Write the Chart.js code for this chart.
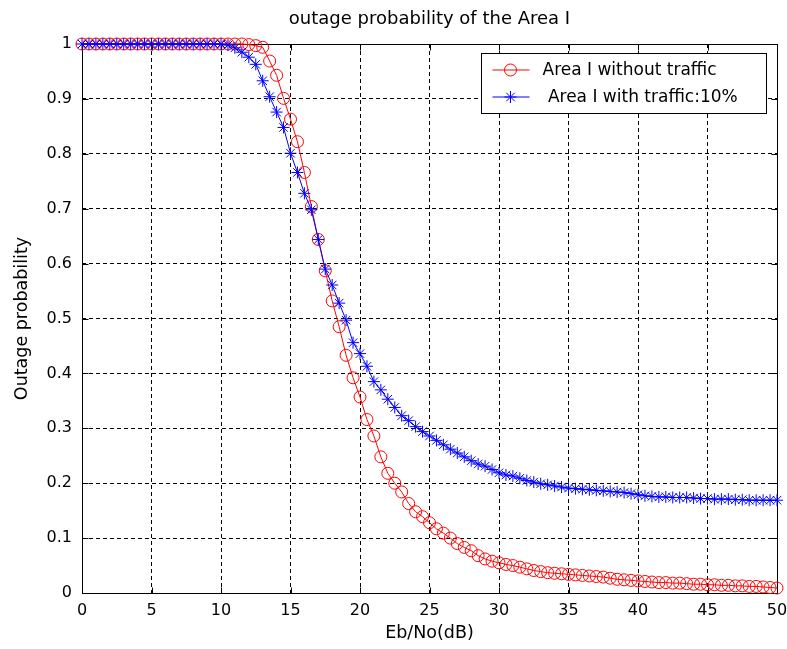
<!DOCTYPE html>
<html>
<head>
<meta charset="utf-8">
<title>outage probability of the Area I</title>
<script src="https://cdn.jsdelivr.net/npm/chart.js@4/dist/chart.umd.min.js"></script>
<style>
  html, body { margin: 0; padding: 0; background: #fff; }
  #wrap { width: 787px; height: 649px; }
</style>
</head>
<body>
<div id="wrap"><canvas id="chart-outage" width="787" height="649"></canvas></div>
<script>
// Eb/No grid in dB (0.5 dB steps)
const ebNo = [
  0, 0.5, 1, 1.5, 2, 2.5, 3, 3.5, 4, 4.5,
  5, 5.5, 6, 6.5, 7, 7.5, 8, 8.5, 9, 9.5,
  10, 10.5, 11, 11.5, 12, 12.5, 13, 13.5, 14, 14.5,
  15, 15.5, 16, 16.5, 17, 17.5, 18, 18.5, 19, 19.5,
  20, 20.5, 21, 21.5, 22, 22.5, 23, 23.5, 24, 24.5,
  25, 25.5, 26, 26.5, 27, 27.5, 28, 28.5, 29, 29.5,
  30, 30.5, 31, 31.5, 32, 32.5, 33, 33.5, 34, 34.5,
  35, 35.5, 36, 36.5, 37, 37.5, 38, 38.5, 39, 39.5,
  40, 40.5, 41, 41.5, 42, 42.5, 43, 43.5, 44, 44.5,
  45, 45.5, 46, 46.5, 47, 47.5, 48, 48.5, 49, 49.5,
  50
];

// outage probability, Area I without traffic
const noTraffic = [
  1, 1, 1, 1, 1, 1, 1, 1, 1, 1,
  1, 1, 1, 1, 1, 1, 1, 1, 1, 1,
  1, 1, 1, 1, 0.999, 0.997, 0.994, 0.969, 0.943, 0.901,
  0.863, 0.822, 0.766, 0.704, 0.644, 0.587, 0.532, 0.485, 0.433, 0.392,
  0.357, 0.316, 0.286, 0.248, 0.218, 0.200, 0.184, 0.163, 0.148, 0.139,
  0.128, 0.117, 0.109, 0.100, 0.090, 0.083, 0.077, 0.068, 0.062, 0.058,
  0.055, 0.052, 0.050, 0.047, 0.044, 0.041, 0.039, 0.037, 0.036, 0.035,
  0.034, 0.033, 0.032, 0.031, 0.030, 0.029, 0.027, 0.025, 0.024, 0.023,
  0.022, 0.021, 0.020, 0.019, 0.019, 0.018, 0.018, 0.017, 0.016, 0.016,
  0.015, 0.015, 0.014, 0.014, 0.013, 0.013, 0.012, 0.012, 0.011, 0.010,
  0.009
];

// outage probability, Area I with 10% traffic
const traffic10 = [
  1, 1, 1, 1, 1, 1, 1, 1, 1, 1,
  1, 1, 1, 1, 1, 1, 1, 1, 1, 1,
  1, 0.998, 0.993, 0.985, 0.976, 0.963, 0.933, 0.904, 0.876, 0.848,
  0.801, 0.766, 0.728, 0.698, 0.644, 0.590, 0.561, 0.528, 0.497, 0.456,
  0.436, 0.413, 0.385, 0.370, 0.353, 0.338, 0.323, 0.314, 0.303, 0.294,
  0.286, 0.278, 0.270, 0.262, 0.255, 0.248, 0.241, 0.235, 0.231, 0.225,
  0.219, 0.215, 0.213, 0.209, 0.205, 0.202, 0.199, 0.197, 0.195, 0.193,
  0.191, 0.190, 0.189, 0.188, 0.187, 0.186, 0.185, 0.184, 0.183, 0.181,
  0.179, 0.177, 0.176, 0.175, 0.175, 0.174, 0.174, 0.174, 0.173, 0.172,
  0.172, 0.171, 0.171, 0.171, 0.170, 0.170, 0.169, 0.169, 0.169, 0.169,
  0.169
];

const seriesLabels = ["Area I without traffic", " Area I with traffic:10%"];

const FONT = "'DejaVu Sans', sans-serif";

function toPoints(ys) {
  return ebNo.map((x, i) => ({ x: x, y: ys[i] }));
}

function drawMarker(ctx, style, x, y, r) {
  ctx.beginPath();
  if (style === "circle") {
    ctx.arc(x, y, r, 0, Math.PI * 2);
  } else {
    // matlab-ish asterisk: + and x together
    ctx.moveTo(x - r, y); ctx.lineTo(x + r, y);
    ctx.moveTo(x, y - r); ctx.lineTo(x, y + r);
    const d = r * Math.SQRT1_2;
    ctx.moveTo(x - d, y - d); ctx.lineTo(x + d, y + d);
    ctx.moveTo(x - d, y + d); ctx.lineTo(x + d, y - d);
  }
  ctx.stroke();
}

// axes box with inward tick marks, drawn under the data
const axesBox = {
  id: "axesBox",
  beforeDatasetsDraw(chart) {
    const { ctx, chartArea: a, scales } = chart;
    const L = Math.round(a.left) + 0.5, R = Math.round(a.right) + 0.5;
    const T = Math.round(a.top) + 0.5, B = Math.round(a.bottom) + 0.5;
    ctx.save();
    ctx.strokeStyle = "#000";
    ctx.lineWidth = 1;
    ctx.setLineDash([]);
    ctx.strokeRect(L, T, R - L, B - T);
    const len = 6;
    ctx.beginPath();
    scales.x.ticks.forEach(t => {
      const px = Math.round(scales.x.getPixelForValue(t.value)) + 0.5;
      ctx.moveTo(px, B); ctx.lineTo(px, B - len);
      ctx.moveTo(px, T); ctx.lineTo(px, T + len);
    });
    scales.y.ticks.forEach(t => {
      const py = Math.round(scales.y.getPixelForValue(t.value)) + 0.5;
      ctx.moveTo(L, py); ctx.lineTo(L + len, py);
      ctx.moveTo(R, py); ctx.lineTo(R - len, py);
    });
    ctx.stroke();
    ctx.restore();
  }
};

// boxed legend in the upper right corner of the plot
const boxLegend = {
  id: "boxLegend",
  afterDraw(chart) {
    const { ctx, chartArea: a } = chart;
    const w = 285, h = 60;
    const x0 = Math.round(a.right - 11 - w) + 0.5;
    const y0 = Math.round(a.top + 9) + 0.5;
    ctx.save();
    ctx.fillStyle = "#fff";
    ctx.fillRect(x0, y0, w, h);
    ctx.strokeStyle = "#000";
    ctx.lineWidth = 1;
    ctx.strokeRect(x0, y0, w, h);
    ctx.font = "17px " + FONT;
    ctx.textBaseline = "middle";
    ctx.textAlign = "left";
    chart.data.datasets.forEach((ds, i) => {
      const cy = Math.round(y0 + 16.5 + i * 27);
      ctx.strokeStyle = ds.borderColor;
      ctx.lineWidth = 1;
      ctx.beginPath();
      ctx.moveTo(x0 + 11, cy); ctx.lineTo(x0 + 48, cy);
      ctx.stroke();
      drawMarker(ctx, ds.pointStyle, x0 + 29, cy, ds.pointRadius);
      ctx.fillStyle = "#000";
      ctx.fillText(ds.label, x0 + 61, cy + 1);
    });
    ctx.restore();
  }
};

const config_outage = {
  type: "line",
  data: {
    datasets: [
      {
        label: seriesLabels[0],
        data: toPoints(noTraffic),
        borderColor: "#ff0000",
        backgroundColor: "rgba(0,0,0,0)",
        borderWidth: 1,
        pointStyle: "circle",
        pointRadius: 6,
        pointBorderWidth: 1,
        pointBorderColor: "#ff0000",
        pointBackgroundColor: "rgba(0,0,0,0)",
        tension: 0,
        clip: false,
        order: 1
      },
      {
        label: seriesLabels[1],
        data: toPoints(traffic10),
        borderColor: "#0000ff",
        backgroundColor: "rgba(0,0,0,0)",
        borderWidth: 1,
        pointStyle: "star",
        pointRadius: 6,
        pointBorderWidth: 1,
        pointBorderColor: "#0000ff",
        pointBackgroundColor: "#0000ff",
        tension: 0,
        clip: false,
        order: 0
      }
    ]
  },
  options: {
    responsive: false,
    animation: false,
    layout: { padding: { left: 0, right: 10, top: 0, bottom: 0 } },
    plugins: {
      legend: { display: false },
      tooltip: { enabled: false },
      title: {
        display: true,
        text: "outage probability of the Area I",
        color: "#000",
        fullSize: false,
        font: { family: FONT, size: 18, weight: "normal" },
        padding: { top: 9, bottom: 13.4 }
      }
    },
    scales: {
      x: {
        type: "linear",
        min: 0,
        max: 50,
        ticks: {
          stepSize: 5,
          color: "#000",
          padding: 8,
          maxRotation: 0,
          font: { family: FONT, size: 16 }
        },
        grid: { color: "#000", lineWidth: 1, drawTicks: false },
        border: { display: false, dash: [4, 3] },
        title: {
          display: true,
          text: "Eb/No(dB)",
          color: "#000",
          font: { family: FONT, size: 17.5 },
          padding: { top: 0, bottom: 5 }
        },
        afterFit(scale) {
          scale.height = 56;
          scale.paddingLeft = 0;
          scale.paddingRight = 0;
        }
      },
      y: {
        type: "linear",
        min: 0,
        max: 1,
        ticks: {
          stepSize: 0.1,
          color: "#000",
          padding: 10,
          font: { family: FONT, size: 16 },
          callback: v => String(Number(v.toFixed(1)))
        },
        grid: { color: "#000", lineWidth: 1, drawTicks: false },
        border: { display: false, dash: [4, 3] },
        title: {
          display: true,
          text: "Outage probability",
          color: "#000",
          font: { family: FONT, size: 17.5 },
          padding: { top: 12, bottom: 0 }
        },
        afterFit(scale) { scale.width = 82; }
      }
    }
  },
  plugins: [axesBox, boxLegend]
};

new Chart(document.getElementById("chart-outage"), config_outage);
</script>
</body>
</html>
